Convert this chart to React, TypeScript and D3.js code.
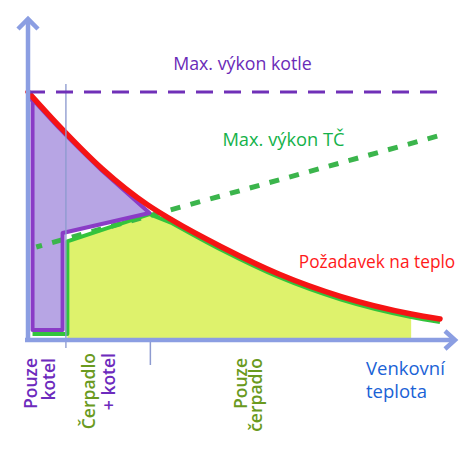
import React from "react";
import * as d3 from "d3";

// ---- data (abstract units: x = outdoor temperature axis 0..100, y = heat output 0..100)
const demandX = [0, 8, 18, 29, 35, 47, 61, 76, 93, 100];
const demandY = [100, 85.5, 69, 54.5, 48.3, 37.5, 26.5, 17.5, 10.5, 8.5];
const hpMaxX = [2, 100];
const hpMaxY = [37.5, 82.5];
const boilerMaxX = [0, 100];
const boilerMaxY = [100, 100];
const balance: [number, number] = [29.5, 52]; // where the zones meet the demand
const boilerOnlyEdge = 8.4; // right edge of "boiler only" zone
const pumpEdge = 9.55; // left edge of heat-pump zone
const pumpFillEnd = 93;
const boilerZoneBottom = 4.8;
const pumpLineBottom = 3.6;
const zoneLeft = 1.1;
const dividerXs = [9.2, 29.7];

const labelBoiler = "Max. výkon kotle";
const labelPump = "Max. výkon TČ";
const labelDemand = "Požadavek na teplo";
const axisLabel = ["Venkovní", "teplota"];

const W = 473;
const H = 457;

export default function App() {
  const x = d3.scaleLinear().domain([0, 100]).range([28, 440]);
  const y = d3.scaleLinear().domain([0, 100]).range([340, 92]);
  const hpAt = d3.scaleLinear().domain(hpMaxX).range(hpMaxY);

  const demand = demandX.map((v, i) => [v, demandY[i]] as [number, number]);
  const line = d3
    .line<[number, number]>()
    .x((d) => x(d[0]))
    .y((d) => y(d[1]))
    .curve(d3.curveMonotoneX);
  const straight = d3
    .line<[number, number]>()
    .x((d) => x(d[0]))
    .y((d) => y(d[1]));

  const demandPath = line(demand) as string;
  const demandLeft = line(demand.filter((d) => d[0] <= 18)) as string;
  const demandRightFill = line(
    demand.filter((d) => d[0] > balance[0] + 1 && d[0] <= pumpFillEnd)
  ) as string;
  const demandRightAll = line(
    demand.filter((d) => d[0] > balance[0] + 1)
  ) as string;

  const purpleLift = 3.5;
  const purplePath =
    demandLeft +
    `L${x(balance[0])},${y(balance[1])}` +
    `L${x(boilerOnlyEdge)},${y(hpAt(boilerOnlyEdge) + purpleLift)}` +
    `L${x(boilerOnlyEdge)},${y(boilerZoneBottom)}` +
    `L${x(zoneLeft)},${y(boilerZoneBottom)}` +
    `L${x(zoneLeft)},${y(97)}Z`;

  const yellowPath =
    `M${x(pumpEdge)},${y(1.2)}` +
    `L${x(pumpEdge)},${y(hpAt(pumpEdge))}` +
    `L${x(balance[0])},${y(balance[1])}` +
    demandRightFill.replace(/^M/, "L") +
    `L${x(pumpFillEnd)},${y(1.2)}Z`;

  const greenPath =
    `M${x(zoneLeft)},${y(pumpLineBottom)}` +
    `L${x(pumpEdge)},${y(pumpLineBottom)}` +
    `L${x(pumpEdge)},${y(hpAt(pumpEdge))}` +
    `L${x(balance[0])},${y(balance[1])}` +
    demandRightAll.replace(/^M/, "L");

  const hpPath = straight(
    hpMaxX.map((v, i) => [v, hpMaxY[i]] as [number, number])
  ) as string;
  const boilerPath = straight(
    boilerMaxX.map((v, i) => [v, boilerMaxY[i]] as [number, number])
  ) as string;

  const axisColor = "#8b9ee2";
  const purple = "#6d2bbd";
  const olive = "#6a9a1e";
  const font = "'Open Sans', 'Noto Sans', sans-serif";

  const x0 = x(0);
  const yBase = y(0);

  return (
    <svg
      width={W}
      height={H}
      style={{ position: "absolute", left: 0, top: 0, background: "#fff" }}
    >
      {/* heat-pump zone */}
      <path d={yellowPath} fill="#def26c" transform="translate(0,3)" />
      {/* boiler zone fill */}
      <path d={purplePath} fill="#b7a5e4" transform="translate(0,2)" />
      {/* HP max dotted */}
      <path
        d={hpPath}
        fill="none"
        stroke="#3bb54c"
        strokeWidth={5}
        strokeDasharray="10 10.5"
        strokeDashoffset={4}
      />
      {/* green output line */}
      <path
        d={greenPath}
        fill="none"
        stroke="#33c43c"
        strokeWidth={4}
        strokeLinejoin="round"
        transform="translate(0,3)"
      />
      {/* purple outline */}
      <path
        d={purplePath}
        fill="none"
        stroke="#8a3cc6"
        strokeWidth={4}
        strokeLinejoin="round"
        transform="translate(0,2)"
      />
      {/* demand */}
      <path
        d={demandPath}
        fill="none"
        stroke="#f51414"
        strokeWidth={5.5}
        strokeLinecap="round"
      />
      {/* divider lines */}
      <line
        x1={x(dividerXs[0])}
        x2={x(dividerXs[0])}
        y1={84}
        y2={yBase + 8}
        stroke="#8e9bd0"
        strokeWidth={1.5}
        opacity={0.9}
      />
      <line
        x1={x(dividerXs[1])}
        x2={x(dividerXs[1])}
        y1={yBase}
        y2={yBase + 25}
        stroke="#8e9bd0"
        strokeWidth={1.5}
      />
      {/* boiler max dashed */}
      <path
        d={boilerPath}
        fill="none"
        stroke="#7030b8"
        strokeWidth={3}
        strokeDasharray="17 11"
      />
      {/* axes */}
      <line x1={x0} x2={x0} y1={19} y2={yBase + 2} stroke={axisColor} strokeWidth={4.5} />
      <line x1={25} x2={455} y1={yBase} y2={yBase} stroke={axisColor} strokeWidth={4.5} />
      <path
        d={`M${x0 - 10},${29}L${x0},${19}L${x0 + 10},${29}`}
        fill="none"
        stroke={axisColor}
        strokeWidth={4.5}
      />
      <path
        d={`M${445},${yBase - 9}L${455},${yBase}L${445},${yBase + 9}`}
        fill="none"
        stroke={axisColor}
        strokeWidth={4.5}
      />
      {/* texts */}
      <text x={242.5} y={70} textAnchor="middle" fontFamily={font} fontSize={17.8} fill="#6a2bb8">
        {labelBoiler}
      </text>
      <text x={283.5} y={146} textAnchor="middle" fontFamily={font} fontSize={18.3} fill="#14b24a">
        {labelPump}
      </text>
      <text x={377} y={268} textAnchor="middle" fontFamily={font} fontSize={17.3} fill="#ff1a1a">
        {labelDemand}
      </text>
      <text x={366} y={375} fontFamily={font} fontSize={18.5} fill="#1a62d6">
        {axisLabel[0]}
      </text>
      <text x={366} y={398} fontFamily={font} fontSize={18.5} fill="#1a62d6">
        {axisLabel[1]}
      </text>
      {/* rotated zone labels */}
      <g fontFamily={font} fontSize={17.5} fontWeight={600} textAnchor="end">
        <text transform="translate(37,358) rotate(-90)" fill={purple}>
          <tspan x={0} y={0}>Pouze</tspan>
          <tspan x={0} y={18}>kotel</tspan>
        </text>
        <text transform="translate(95,353) rotate(-90)">
          <tspan x={0} y={0} fill={olive}>Čerpadlo</tspan>
          <tspan x={0} y={20} fill={purple}>+ kotel</tspan>
        </text>
        <text transform="translate(247,358) rotate(-90)" fill={olive}>
          <tspan x={0} y={0}>Pouze</tspan>
          <tspan x={0} y={15}>čerpadlo</tspan>
        </text>
      </g>
    </svg>
  );
}
